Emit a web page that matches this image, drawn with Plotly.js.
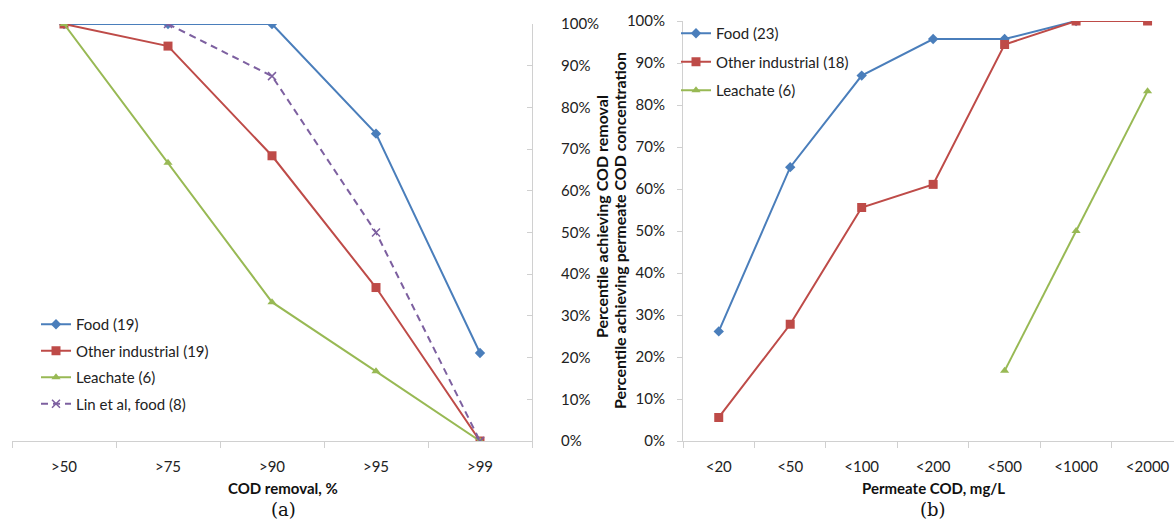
<!DOCTYPE html>
<html><head><meta charset="utf-8">
<script src="https://cdn.plot.ly/plotly-3.0.1.min.js"></script>
<style>html,body{margin:0;padding:0;background:#fff}#chart{width:1174px;height:521px}</style>
</head><body><div id="chart"></div>
<script>
// Panel (a): COD removal
const removalCats = ['>50', '>75', '>90', '>95', '>99'];
const foodA = [100, 100, 100, 73.7, 21.1];
const otherA = [100, 94.7, 68.4, 36.8, 0];
const leachA = [100, 66.7, 33.3, 16.7, 0];
const linA = [null, 100, 87.5, 50, 0];
// Panel (b): permeate COD
const permeateCats = ['<20', '<50', '<100', '<200', '<500', '<1000', '<2000'];
const foodB = [26.1, 65.2, 87.0, 95.7, 95.7, 100, null];
const otherB = [5.6, 27.8, 55.6, 61.1, 94.4, 100, 100];
const leachB = [null, null, null, null, 16.7, 50, 83.3];
const yTicks = [0, 10, 20, 30, 40, 50, 60, 70, 80, 90, 100];

const W = 1174, H = 521;
const px = v => v / W, py = v => (H - v) / H;
const BLUE = '#4A7EBB', RED = '#BE4B48', GREEN = '#98B954', PURPLE = '#7D60A0';
const FONT = 'Lato, "Open Sans", sans-serif';

function tr(x, y, name, color, sym, size, xa, ya, leg, dash) {
  return {x: x, y: y, name: name, type: 'scatter', mode: 'lines+markers', xaxis: xa, yaxis: ya,
    legend: leg, legendgroup: name, connectgaps: false,
    line: {color: color, width: 2, dash: dash || 'solid'},
    marker: {color: color, symbol: sym, size: size, line: {width: sym === 'x-thin' ? 1.5 : 0, color: color}}};
}

const data = [
  tr(removalCats, foodA, 'Food (19)', BLUE, 'diamond', 8, 'x', 'y', 'legend'),
  tr(removalCats, otherA, 'Other industrial (19)', RED, 'square', 9, 'x', 'y', 'legend'),
  tr(removalCats, leachA, 'Leachate (6)', GREEN, 'triangle-up', 8, 'x', 'y', 'legend'),
  tr(removalCats, linA, 'Lin et al, food (8)', PURPLE, 'x-thin', 8, 'x', 'y', 'legend', '7px,5px'),
  tr(permeateCats, foodB, 'Food (23)', BLUE, 'diamond', 8, 'x2', 'y2', 'legend2'),
  tr(permeateCats, otherB, 'Other industrial (18)', RED, 'square', 9, 'x2', 'y2', 'legend2'),
  tr(permeateCats, leachB, 'Leachate (6)', GREEN, 'triangle-up', 8, 'x2', 'y2', 'legend2')
];

const axisCommon = {showgrid: false, zeroline: false, showline: true, linecolor: '#D0D0D0', linewidth: 1,
  tickcolor: '#D0D0D0', tickfont: {family: FONT, size: 15, color: '#222'}, fixedrange: true};

const ann = (text, x, y, size, fam, angle) => ({text: text, x: px(x), y: py(y), xref: 'paper', yref: 'paper',
  xanchor: 'center', yanchor: 'middle', showarrow: false, textangle: angle || 0,
  font: {family: fam || FONT, size: size, color: '#111'}});
const SERIF = '"DejaVu Serif", "Liberation Serif", serif';

const layout = {
  width: W, height: H, margin: {l: 0, r: 0, t: 0, b: 0}, paper_bgcolor: '#fff', plot_bgcolor: '#fff',
  font: {family: FONT, size: 15, color: '#222'},
  xaxis: Object.assign({}, axisCommon, {type: 'category', domain: [px(12), px(532)], anchor: 'y',
    range: [-0.5, 4.5], ticks: 'outside', ticklen: 6, tickson: 'boundaries', ticklabelstandoff: 12}),
  yaxis: Object.assign({}, axisCommon, {domain: [py(441), py(24)], anchor: 'x', side: 'right', range: [0, 100],
    tickvals: yTicks, ticktext: yTicks.map(v => v + '%'), ticks: 'inside', ticklen: 5, ticklabelstandoff: 25}),
  xaxis2: Object.assign({}, axisCommon, {type: 'category', domain: [px(683), 1], anchor: 'y2',
    range: [-0.5, 6.37], ticks: 'outside', ticklen: 6, tickson: 'boundaries', ticklabelstandoff: 12}),
  yaxis2: Object.assign({}, axisCommon, {domain: [py(441), py(21)], anchor: 'x2', side: 'left', range: [0, 100],
    tickvals: yTicks, ticktext: yTicks.map(v => v + '%'), ticks: 'outside', ticklen: 5, ticklabelstandoff: 9}),
  showlegend: true,
  legend: {x: px(36), y: py(308), xanchor: 'left', yanchor: 'top', bgcolor: 'rgba(0,0,0,0)',
    font: {family: FONT, size: 15, color: '#222'}, itemwidth: 30, tracegroupgap: 4, traceorder: 'grouped'},
  legend2: {x: px(676), y: py(17), xanchor: 'left', yanchor: 'top', bgcolor: 'rgba(0,0,0,0)',
    font: {family: FONT, size: 15, color: '#222'}, itemwidth: 30, tracegroupgap: 6, traceorder: 'grouped'},
  annotations: [
    ann('<b>COD removal, %</b>', 283, 488, 15),
    ann('<b>Permeate COD, mg/L</b>', 933, 488, 15),
    ann('(a)', 283, 509, 18, SERIF),
    ann('(b)', 933, 509, 18, SERIF),
    ann('<b>Percentile achieving COD removal</b>', 601, 217, 16, FONT, -90),
    ann('<b>Percentile achieving permeate COD concentration</b>', 619, 231, 16, FONT, -90)
  ]
};

Plotly.newPlot('chart', data, layout, {displayModeBar: false, staticPlot: true});
</script></body></html>
